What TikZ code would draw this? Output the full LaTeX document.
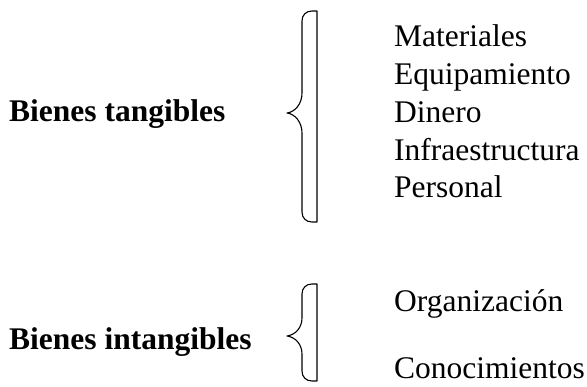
\documentclass[tikz,border=0pt]{standalone}
\usepackage{fontspec}
\setmainfont{Liberation Serif}
\begin{document}
\begin{tikzpicture}[x=1pt,y=-1pt,
  lbl/.style={anchor=base west,inner sep=0pt,font=\fontsize{31.5}{37.7}\selectfont},
  head/.style={lbl,font=\fontsize{31.5}{37.7}\selectfont\bfseries},
  bracestroke/.style={draw=black,line width=1.1pt,line join=round}]
\useasboundingbox (0,0) rectangle (587,387);
% left labels
\node[head] (tang) at (9,121.7) {Bienes tangibles};
\node[head] (intang) at (9,350) {Bienes intangibles};
% right items
\node[lbl] (mat) at (394,47) {Materiales};
\node[lbl] (equ) at (394,84.7) {Equipamiento};
\node[lbl] (din) at (394,122.4) {Dinero};
\node[lbl] (inf) at (394,160.1) {Infraestructura};
\node[lbl] (per) at (394,197.8) {Personal};
\node[lbl] (org) at (394,312) {Organización};
\node[lbl] (con) at (394,379) {Conocimientos};
% brace 1
\draw[bracestroke] (317,11) -- (317,222) -- (312,222)
  .. controls (306,222) and (302,218) .. (302,212)
  -- (302,133) .. controls (302,122) and (295,114) .. (287,113)
  .. controls (295,112) and (302,104) .. (302,93)
  -- (302,21) .. controls (302,15) and (306,11) .. (312,11) -- cycle;
% brace 2
\draw[bracestroke] (317,284) -- (317,381) -- (312,381)
  .. controls (306,381) and (302,377) .. (302,371)
  -- (302,354) .. controls (302,344) and (295,337) .. (287,336)
  .. controls (295,335) and (302,328) .. (302,318)
  -- (302,294) .. controls (302,288) and (306,284) .. (312,284) -- cycle;
\end{tikzpicture}
\end{document}
